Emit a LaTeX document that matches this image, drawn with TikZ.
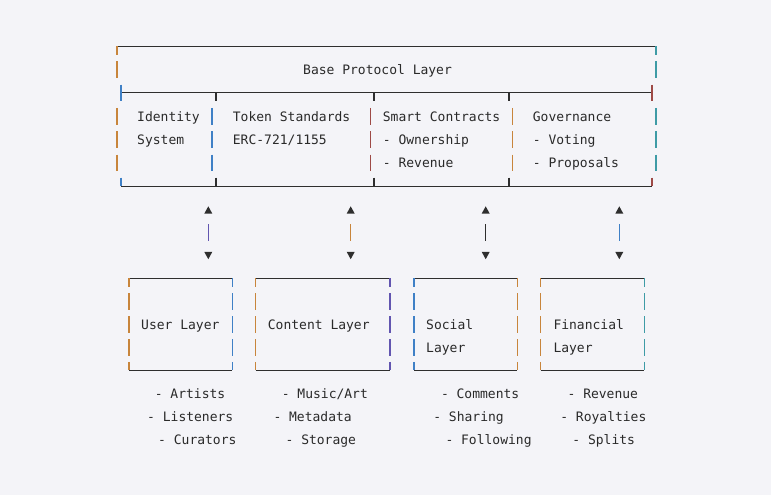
\documentclass[tikz,border=0pt]{standalone}
\usepackage{fontspec}
\setmonofont{DejaVu Sans Mono}
\definecolor{bg}{HTML}{F4F4F8}
\definecolor{ln}{HTML}{2E2E2E}
\definecolor{tx}{HTML}{2A2A2A}
\definecolor{cor}{HTML}{C8853C}
\definecolor{cbl}{HTML}{3F80C6}
\definecolor{cte}{HTML}{3E9BA6}
\definecolor{cpu}{HTML}{6255B0}
\definecolor{cre}{HTML}{9E4A46}
\tikzset{
  txt/.style={anchor=base west, inner sep=0pt, font=\ttfamily\fontsize{13}{15}\selectfont, text=tx},
  hl/.style={draw=ln, line width=1.1pt},
  vb/.style={line width=1.2pt},
  tri/.style={fill=ln, draw=none},
}
% vertical bar segment of one text row: x, row centre, colour
\newcommand\vsegm[3]{\draw[vb,draw=#3] ({#1},{#2-8.3}) -- ({#1},{#2+8.3});}
\newcommand\vdown[3]{\draw[vb,draw=#3] ({#1},{#2}) -- ({#1},{#2+8.5});}
\newcommand\vup[3]{\draw[vb,draw=#3] ({#1},{#2-8.5}) -- ({#1},{#2});}
\begin{document}
\begin{tikzpicture}[x=1pt,y=-1pt]
\useasboundingbox (0,0) rectangle (771,495);
\fill[bg] (0,0) rectangle (771,495);

% ---------- Base protocol layer ----------
\draw[hl] (117,46.3) -- (656,46.3);
\vdown{117}{46.3}{cor}
\vdown{656}{46.3}{cte}
\vsegm{117}{69.6}{cor}
\vsegm{656}{69.6}{cte}
\node[txt] (base) at (303,74.6) {Base Protocol Layer};

\draw[hl] (121,92.9) -- (652,92.9);
\vsegm{121}{92.9}{cbl}
\vsegm{652}{92.9}{cre}
\foreach \x in {216,374,509} {\vdown{\x}{92.9}{ln}}

\foreach \r in {116.2,139.5,162.8} {
  \vsegm{117}{\r}{cor}
  \vsegm{212}{\r}{cbl}
  \vsegm{370.7}{\r}{cre}
  \vsegm{512.7}{\r}{cor}
  \vsegm{656}{\r}{cte}
}

\draw[hl] (121,186.1) -- (652,186.1);
\vup{121}{186.1}{cbl}
\vup{652}{186.1}{cre}
\foreach \x in {216,374,509} {\vup{\x}{186.1}{ln}}

\node[txt] (id1) at (137,121.2) {Identity};
\node[txt] (id2) at (137,144.5) {System};
\node[txt] (tk1) at (232.7,121.2) {Token Standards};
\node[txt] (tk2) at (232.7,144.5) {ERC-721/1155};
\node[txt] (sc1) at (382.7,121.2) {Smart Contracts};
\node[txt] (sc2) at (382.7,144.5) {- Ownership};
\node[txt] (sc3) at (382.7,167.8) {- Revenue};
\node[txt] (gv1) at (532.7,121.2) {Governance};
\node[txt] (gv2) at (532.7,144.5) {- Voting};
\node[txt] (gv3) at (532.7,167.8) {- Proposals};

% ---------- arrows ----------
\foreach \n/\x/\c in {1/208.3/cpu,2/350.7/cor,3/485.7/ln,4/619.3/cbl} {
  \coordinate (a\n t) at (\x,206.3);
  \coordinate (a\n b) at (\x,259.2);
  \fill[tri] (a\n t) -- ++(-4,7.3) -- ++(8,0) -- cycle;
  \fill[tri] (a\n b) -- ++(-4,-7.3) -- ++(8,0) -- cycle;
  \draw[vb,draw=\c] ([yshift=-17.7pt]a\n t) -- ([yshift=18.5pt]a\n b);
}

% ---------- lower boxes ----------
\foreach \l/\rr/\cl/\cr in {129/232.3/cor/cbl, 255.7/390/cor/cpu, 414/517.3/cbl/cor, 540.7/644.3/cor/cte} {
  \draw[hl] (\l,278.3) -- (\rr,278.3);
  \draw[hl] (\l,370.3) -- (\rr,370.3);
  \vdown{\l}{278.3}{\cl}
  \vdown{\rr}{278.3}{\cr}
  \foreach \r in {301.3,324.3,347.3} {
    \vsegm{\l}{\r}{\cl}
    \vsegm{\rr}{\r}{\cr}
  }
  \vup{\l}{370.3}{\cl}
  \vup{\rr}{370.3}{\cr}
}
\node[txt] (user) at (141,329.3) {User Layer};
\node[txt] (content) at (267.7,329.3) {Content Layer};
\node[txt] (soc1) at (426,329.3) {Social};
\node[txt] (soc2) at (426,352.3) {Layer};
\node[txt] (fin1) at (553.3,329.3) {Financial};
\node[txt] (fin2) at (553.3,352.3) {Layer};

% ---------- lists ----------
\node[txt] (u1) at (154.6,398.3) {- Artists};
\node[txt] (u2) at (147,421.6) {- Listeners};
\node[txt] (u3) at (158,444.9) {- Curators};
\node[txt] (c1) at (281.6,398.3) {- Music/Art};
\node[txt] (c2) at (273.3,421.6) {- Metadata};
\node[txt] (c3) at (285.4,444.9) {- Storage};
\node[txt] (s1) at (440.8,398.3) {- Comments};
\node[txt] (s2) at (433.1,421.6) {- Sharing};
\node[txt] (s3) at (445.3,444.9) {- Following};
\node[txt] (f1) at (567.4,398.3) {- Revenue};
\node[txt] (f2) at (560.1,421.6) {- Royalties};
\node[txt] (f3) at (572.2,444.9) {- Splits};
\end{tikzpicture}
\end{document}
